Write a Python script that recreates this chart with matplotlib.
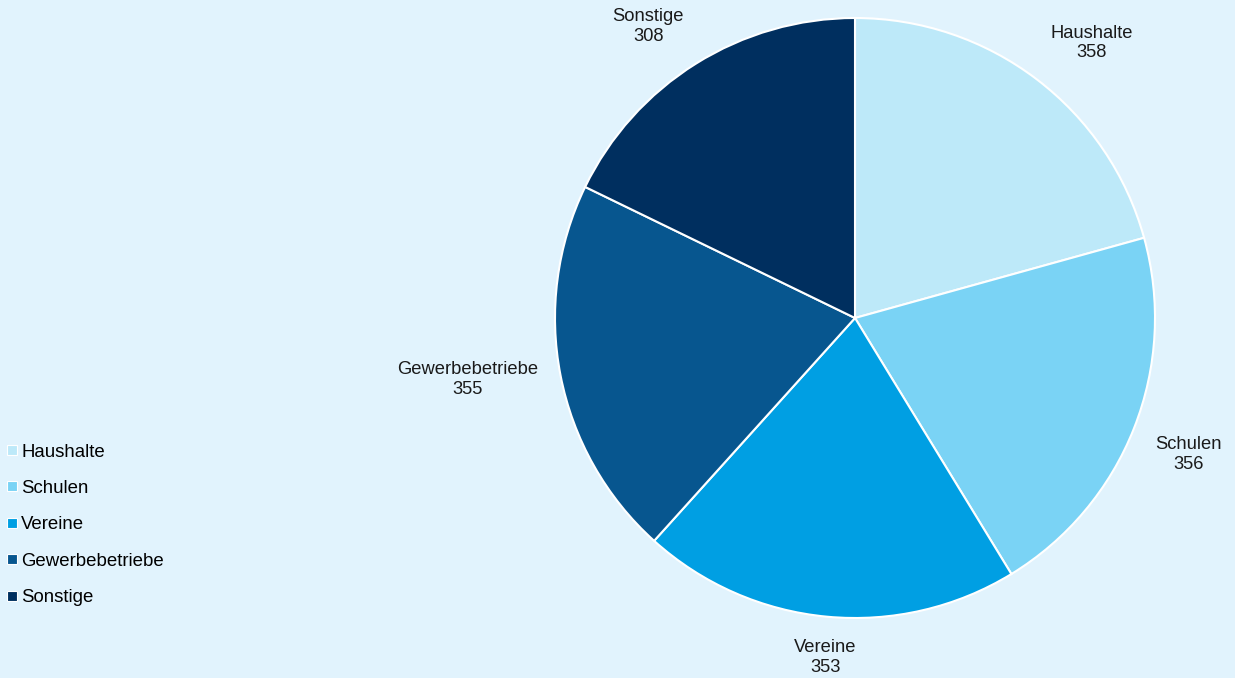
import numpy as np
import matplotlib
matplotlib.use("Agg")
import matplotlib.pyplot as plt
from matplotlib.lines import Line2D

plt.rcParams['font.family'] = ['Liberation Sans', 'DejaVu Sans']

categories = ['Haushalte', 'Schulen', 'Vereine', 'Gewerbebetriebe', 'Sonstige']
values = [358, 356, 353, 355, 308]
colors = ['#BDE9F9', '#7AD3F5', '#009FE3', '#07568F', '#002F5F']

bg = '#E1F3FD'

fig = plt.figure(figsize=(12.35, 6.78), dpi=100, facecolor=bg)
ax = fig.add_axes([555 / 1235, 60 / 678, 600 / 1235, 600 / 678])
ax.set_facecolor(bg)

wedges, _ = ax.pie(values, colors=colors, startangle=90, counterclock=False,
                   radius=1.0, wedgeprops=dict(edgecolor='white', linewidth=1.5))

# labels placed just outside the slice, aligned away from the pie
for w, cat, val in zip(wedges, categories, values):
    mid = np.deg2rad((w.theta1 + w.theta2) / 2)
    c, s = np.cos(mid), np.sin(mid)
    ha = 'left' if c > 0.3 else ('right' if c < -0.3 else 'center')
    va = 'bottom' if s > 0.3 else ('top' if s < -0.3 else 'center')
    ax.text(1.075 * c, 1.075 * s, f'{cat}\n{val}', ha=ha, va=va,
            multialignment='center', fontsize=13.2, color='#1a1a1a',
            linespacing=1.2)

ax.set_xlim(-1, 1)
ax.set_ylim(-1, 1)
ax.set_aspect('equal')
ax.axis('off')

handles = [Line2D([0], [0], marker='s', linestyle='none', markersize=7,
                  markerfacecolor=c, markeredgecolor='white', markeredgewidth=0.8)
           for c in colors]
leg = fig.legend(handles, categories, loc='center left',
                 bbox_to_anchor=(0.0, 0.226), frameon=False, fontsize=13.4,
                 handlelength=0.7, handletextpad=0.15, labelspacing=1.04,
                 borderaxespad=0.0, borderpad=0.3)

fig.savefig('out.png', dpi=100, facecolor=bg)
